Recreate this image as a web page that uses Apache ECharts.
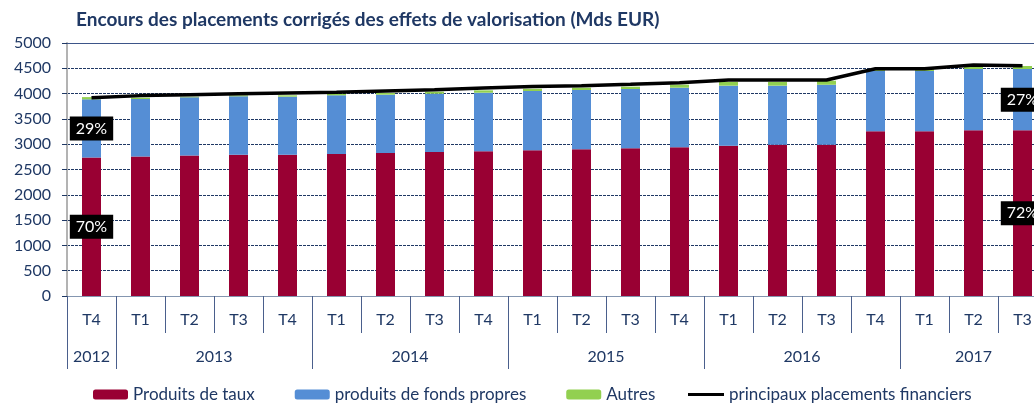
<!DOCTYPE html>
<html>
<head>
<meta charset="utf-8">
<script src="https://cdn.jsdelivr.net/npm/echarts@6/dist/echarts.min.js"></script>
<style>
  html, body { margin: 0; padding: 0; background: #fff; overflow: hidden; }
  /* plot runs past the right edge, as in the original export */
  #chart { width: 1047px; height: 403px; }
</style>
</head>
<body>
<div id="chart"></div>
<script>
// quarters on the first axis level, years on the second
var quarters = ['T4', 'T1', 'T2', 'T3', 'T4', 'T1', 'T2', 'T3', 'T4', 'T1', 'T2', 'T3', 'T4', 'T1', 'T2', 'T3', 'T4', 'T1', 'T2', 'T3'];
var years = ['2012', '2013', '2014', '2015', '2016', '2017'];
var yearSpans = [1, 4, 4, 4, 4, 3];

// Mds EUR
var produitsTaux = [2735, 2755, 2775, 2790, 2790, 2805, 2825, 2845, 2860, 2880, 2900, 2920, 2940, 2970, 2990, 2990, 3255, 3255, 3275, 3275];
var fondsPropres = [1151, 1138, 1151, 1156, 1150, 1161, 1154, 1153, 1158, 1171, 1171, 1171, 1177, 1187, 1167, 1185, 1192, 1192, 1211, 1211];
var autres = [45, 27, 14, 20, 26, 26, 33, 40, 46, 45, 46, 46, 60, 72, 72, 80, 39, 39, 79, 59];
var principaux = [3920, 3960, 3979, 3998, 4012, 4025, 4051, 4078, 4110, 4140, 4157, 4183, 4216, 4269, 4269, 4269, 4490, 4490, 4565, 4550];

var navy = '#1F3864';
var font = 'Lato';

// year axis: half-quarter points, ticks at group edges, label at group middle
var yearPoints = [];
var yearTicks = {};
var yearLabels = {};
var pos = 0;
for (var i = 0; i < years.length; i++) {
  yearTicks[pos] = true;
  yearLabels[pos + yearSpans[i]] = true;
  for (var k = 0; k < yearSpans[i] * 2; k++) {
    yearPoints.push(k === yearSpans[i] ? years[i] : '');
  }
  pos += yearSpans[i] * 2;
}
yearPoints.push('');
yearTicks[pos] = true;

var last = quarters.length - 1;
var pctLabel = {
  show: true,
  position: 'inside',
  color: '#fff',
  backgroundColor: '#000',
  fontFamily: font,
  fontSize: 16,
  padding: [4, 6, 4, 6]
};
function withShare(values) {
  return values.map(function (v, i) {
    if (i === 0 || i === last) {
      var share = Math.round(v / principaux[i] * 100);
      return { value: v, label: Object.assign({ formatter: share + '%' }, pctLabel) };
    }
    return v;
  });
}

var chart = echarts.init(document.getElementById('chart'));
var option = {
  animation: false,
  title: {
    text: 'Encours des placements corrigés des effets de valorisation (Mds EUR)',
    left: 71,
    top: 5,
    textStyle: { color: navy, fontFamily: font, fontWeight: 'bold', fontSize: 19 }
  },
  legend: [
    {
      left: 88,
      top: 381,
      itemWidth: 35,
      itemHeight: 10,
      itemGap: 40,
      textStyle: { color: navy, fontFamily: font, fontSize: 17 },
      data: ['Produits de taux', 'produits de fonds propres', 'Autres']
    },
    {
      left: 683,
      top: 381,
      icon: 'rect',
      itemWidth: 36,
      itemHeight: 3,
      textStyle: { color: navy, fontFamily: font, fontSize: 17 },
      data: ['principaux placements financiers']
    }
  ],
  grid: { left: 67, right: 0, top: 43, bottom: 107 },
  xAxis: [
    {
      type: 'category',
      data: quarters,
      position: 'bottom',
      axisLine: { lineStyle: { color: '#8496B0', width: 1 } },
      axisTick: { show: true, interval: 0, length: 37, lineStyle: { color: '#4A5F8C' } },
      axisLabel: { interval: 0, margin: 16, color: navy, fontFamily: font, fontSize: 16 }
    },
    {
      type: 'category',
      data: yearPoints,
      position: 'bottom',
      boundaryGap: false,
      axisLine: { show: false },
      axisTick: {
        show: true,
        length: 73,
        interval: function (idx) { return !!yearTicks[idx]; },
        lineStyle: { color: '#4A5F8C' }
      },
      axisLabel: {
        margin: 53,
        interval: function (idx) { return !!yearLabels[idx]; },
        color: navy, fontFamily: font, fontSize: 16
      }
    },
    {
      type: 'category',
      data: quarters,
      position: 'top',
      axisLine: { lineStyle: { color: '#3D5589', width: 1 } },
      axisTick: { show: false },
      axisLabel: { show: false }
    }
  ],
  yAxis: {
    type: 'value',
    min: 0,
    max: 5000,
    interval: 500,
    axisLine: { show: true, lineStyle: { color: '#B3B3B3', width: 2 } },
    axisTick: { show: true, length: 5, lineStyle: { color: navy } },
    axisLabel: {
      margin: 16, color: navy, fontFamily: font, fontSize: 16,
      formatter: function (v) { return String(v); }
    },
    splitLine: { lineStyle: { color: navy, type: [3, 1], width: 1 } }
  },
  series: [
    {
      name: 'Produits de taux',
      type: 'bar',
      stack: 'total',
      barWidth: 19,
      itemStyle: { color: '#990033' },
      data: withShare(produitsTaux)
    },
    {
      name: 'produits de fonds propres',
      type: 'bar',
      stack: 'total',
      barWidth: 19,
      itemStyle: { color: '#558ED5' },
      data: withShare(fondsPropres)
    },
    {
      name: 'Autres',
      type: 'bar',
      stack: 'total',
      barWidth: 19,
      itemStyle: { color: '#92D050' },
      data: autres
    },
    {
      name: 'principaux placements financiers',
      type: 'line',
      symbol: 'none',
      z: 5,
      lineStyle: { color: '#000', width: 3.5 },
      itemStyle: { color: '#000' },
      data: principaux
    }
  ]
};
chart.setOption(option);
</script>
</body>
</html>
